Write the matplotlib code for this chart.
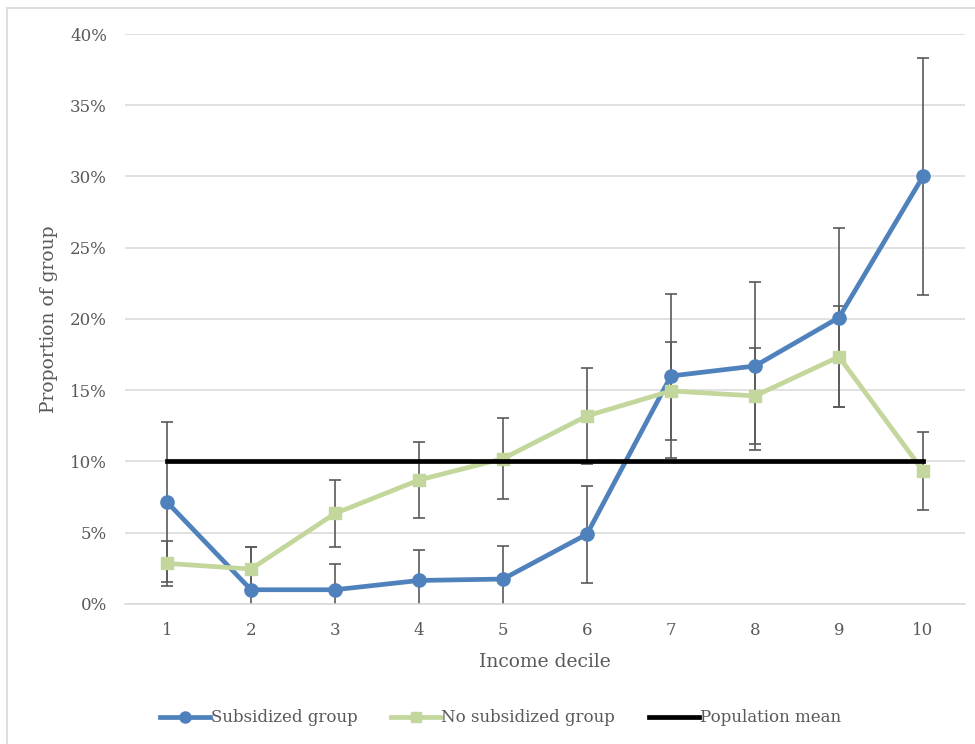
import matplotlib.pyplot as plt
from matplotlib.lines import Line2D
from matplotlib.ticker import PercentFormatter

# income deciles
deciles = [1, 2, 3, 4, 5, 6, 7, 8, 9, 10]

# subsidized group (% of group) and error
subsidized = [7.15, 1.0, 1.0, 1.65, 1.75, 4.9, 16.0, 16.7, 20.1, 30.0]
subsidized_err = [5.6, 3.0, 1.8, 2.15, 2.3, 3.4, 5.75, 5.9, 6.3, 8.3]

# no subsidized group
no_subsidized = [2.85, 2.45, 6.35, 8.7, 10.2, 13.2, 14.95, 14.6, 17.35, 9.35]
no_subsidized_err = [1.6, 1.55, 2.35, 2.7, 2.85, 3.35, 3.45, 3.35, 3.55, 2.75]

pop_mean = [10.0] * len(deciles)

y_ticks = [0, 5, 10, 15, 20, 25, 30, 35, 40]

BLUE = '#4f81bd'
GREEN = '#c3d69b'
GREY = '#595959'

plt.rcParams['font.family'] = ['DejaVu Serif']

fig = plt.figure(figsize=(9.75, 7.44), dpi=100)
ax = fig.add_axes([0.1282, 0.1882, 0.8615, 0.7661])

# error bars first so the markers sit on top
ax.errorbar(deciles, subsidized, yerr=subsidized_err, fmt='none', ecolor='#5a5a5a',
            elinewidth=1.2, capsize=4, capthick=1.2, zorder=2)
ax.errorbar(deciles, no_subsidized, yerr=no_subsidized_err, fmt='none', ecolor='#5a5a5a',
            elinewidth=1.2, capsize=4, capthick=1.2, zorder=2)

ax.plot(deciles, subsidized, color=BLUE, lw=3.4, marker='o', ms=9.5, zorder=3,
        label='Subsidized group')
ax.plot(deciles, no_subsidized, color=GREEN, lw=3.4, marker='s', ms=8.5, zorder=3,
        label='No subsidized group')
ax.plot(deciles, pop_mean, color='black', lw=3.4, zorder=4, label='Population mean')

ax.set_xlim(0.5, 10.5)
ax.set_ylim(0, 40)
ax.set_xticks(deciles)
ax.set_yticks(y_ticks)
ax.yaxis.set_major_formatter(PercentFormatter(decimals=0))
ax.grid(axis='y', color='#d9d9d9', lw=1.1, zorder=0)
ax.set_axisbelow(True)
for s in ['top', 'right', 'left']:
    ax.spines[s].set_visible(False)
ax.spines['bottom'].set_color('#d9d9d9')
ax.spines['bottom'].set_linewidth(1.1)
ax.tick_params(axis='both', length=0, labelsize=12, labelcolor=GREY)
ax.tick_params(axis='y', pad=13)
ax.tick_params(axis='x', pad=13)

ax.set_xlabel('Income decile', fontsize=13.5, color=GREY, labelpad=10)
ax.set_ylabel('Proportion of group', fontsize=13.5, color=GREY, labelpad=9)

handles = [
    Line2D([], [], color=BLUE, lw=3.4, marker='o', ms=8),
    Line2D([], [], color=GREEN, lw=3.4, marker='s', ms=7),
    Line2D([], [], color='black', lw=3.4),
]
fig.legend(handles, ['Subsidized group', 'No subsidized group', 'Population mean'],
           loc='center', bbox_to_anchor=(0.513, 0.035), ncol=3, frameon=False,
           fontsize=12, handlelength=3.0, handletextpad=0.05, columnspacing=2.0,
           labelcolor=GREY)

# chart area border (left and top edges are what shows)
fig.add_artist(Line2D([0.0072, 0.0072], [0, 0.989], transform=fig.transFigure,
                      color='#d9d9d9', lw=1.2))
fig.add_artist(Line2D([0.0072, 1], [0.989, 0.989], transform=fig.transFigure,
                      color='#d9d9d9', lw=1.2))

fig.savefig('out.png', dpi=100)
